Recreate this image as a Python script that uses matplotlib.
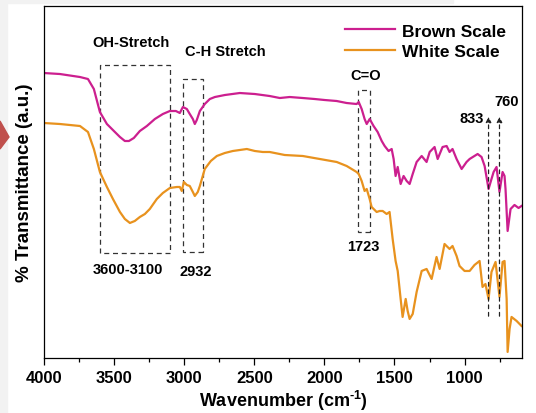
import numpy as np
import matplotlib
matplotlib.use('Agg')
import matplotlib.pyplot as plt
from matplotlib.patches import Rectangle, Polygon

plt.rcParams['font.family'] = ['Liberation Sans', 'DejaVu Sans']
plt.rcParams['font.weight'] = 'bold'
plt.rcParams['mathtext.fontset'] = 'custom'
plt.rcParams['mathtext.rm'] = 'Liberation Sans:bold'
plt.rcParams['mathtext.bf'] = 'Liberation Sans:bold'

# wavenumber (cm-1) and transmittance (a.u.)
wn_brown = [4000, 3886, 3743, 3686, 3644, 3601, 3551, 3494, 3458, 3423,
            3394, 3359, 3316, 3266, 3209, 3152, 3102, 3059, 3031, 3009,
            2981, 2960, 2938, 2924, 2910, 2888, 2853, 2817, 2781, 2710,
            2603, 2496, 2390, 2318, 2247, 2154, 2069, 1998, 1912, 1841,
            1770, 1755, 1734, 1713, 1698, 1677, 1649, 1620, 1591, 1570,
            1542, 1520, 1506, 1492, 1477, 1456, 1435, 1413, 1392, 1370,
            1342, 1306, 1271, 1249, 1214, 1192, 1157, 1128, 1107, 1086,
            1057, 1021, 986, 964, 907, 879, 857, 829, 808, 793,
            772, 751, 729, 715, 708, 693, 672, 644, 615, 594]
t_brown = [285, 284, 281, 279, 269, 246, 234, 226, 221, 217,
           217, 220, 227, 232, 239, 244, 247, 247, 245, 251,
           249, 244, 239, 234, 238, 247, 254, 259, 261, 263,
           265, 264, 262, 260, 261, 260, 259, 258, 257, 255,
           254, 256, 249, 239, 234, 239, 232, 226, 217, 212,
           207, 209, 199, 182, 191, 174, 182, 177, 174, 184,
           196, 202, 196, 206, 211, 199, 211, 212, 206, 209,
           199, 189, 196, 199, 204, 201, 192, 169, 179, 186,
           191, 166, 186, 182, 169, 127, 149, 153, 150, 152]

wn_white = [4000, 3886, 3743, 3686, 3644, 3601, 3551, 3508, 3458, 3423,
            3387, 3352, 3316, 3280, 3245, 3195, 3152, 3102, 3052, 3031,
            3017, 3002, 2981, 2960, 2938, 2924, 2903, 2888, 2853, 2810,
            2767, 2710, 2653, 2553, 2496, 2439, 2390, 2283, 2154, 2033,
            1912, 1841, 1770, 1755, 1734, 1713, 1698, 1677, 1663, 1627,
            1606, 1584, 1556, 1535, 1513, 1492, 1477, 1456, 1442, 1420,
            1406, 1392, 1370, 1342, 1306, 1271, 1235, 1200, 1178, 1143,
            1107, 1086, 1057, 1036, 1000, 964, 929, 893, 872, 851,
            829, 808, 779, 751, 729, 715, 700, 693, 679, 665,
            629, 594]
t_white = [235, 234, 232, 226, 209, 186, 171, 159, 146, 139,
           135, 137, 141, 144, 149, 159, 165, 170, 171, 171,
           167, 176, 173, 172, 166, 162, 166, 172, 189, 197,
           202, 205, 207, 209, 207, 206, 206, 203, 202, 199,
           196, 192, 186, 184, 177, 167, 169, 159, 151, 146,
           147, 147, 144, 146, 119, 97, 87, 59, 41, 59,
           47, 39, 44, 66, 87, 89, 79, 101, 89, 114,
           109, 112, 102, 92, 87, 87, 93, 97, 71, 74,
           59, 86, 96, 61, 96, 97, 59, 6, 29, 41,
           37, 32]

# annotation boxes: (x from, x to, y bottom, y top)
boxes = [(3600, 3100, 105, 293), (3010, 2867, 106, 279), (1762, 1677, 126, 268)]
peaks = [829, 751]

fig = plt.figure(figsize=(5.36, 4.14), dpi=100)
ax = fig.add_axes([0.082, 0.133, 0.892, 0.850])

ax.plot(wn_brown, t_brown, color='#cc1f8f', lw=1.6, label='Brown Scale')
ax.plot(wn_white, t_white, color='#e8921e', lw=1.6, label='White Scale')

for x0, x1, y0, y1 in boxes:
    ax.add_patch(Rectangle((x1, y0), x0 - x1, y1 - y0, fill=False,
                           ls=(0, (4, 3)), lw=0.9, ec='#333333'))

for p in peaks:
    ax.annotate('', xy=(p, 244), xytext=(p, 39),
                arrowprops=dict(arrowstyle='-|>', ls=(0, (3, 3)), lw=0.9,
                                color='#222222', mutation_scale=8))

fs = 10.5
ax.text(3380, 316, 'OH-Stretch', ha='center', va='center', fontsize=fs)
ax.text(2710, 307, 'C-H Stretch', ha='center', va='center', fontsize=fs)
ax.text(1705, 283, 'C=O', ha='center', va='center', fontsize=fs)
ax.text(3401, 89, '3600-3100', ha='center', va='center', fontsize=fs)
ax.text(2917, 87, '2932', ha='center', va='center', fontsize=fs)
ax.text(1720, 112, '1723', ha='center', va='center', fontsize=fs)
ax.text(950, 240, '833', ha='center', va='center', fontsize=fs)
ax.text(700, 257, '760', ha='center', va='center', fontsize=fs)

ax.set_xlim(4000, 590)
ax.set_ylim(0, 352)
ax.set_xticks([4000, 3500, 3000, 2500, 2000, 1500, 1000])
ax.set_xticks(np.arange(3750, 590, -500), minor=True)
ax.set_yticks([])
ax.tick_params(axis='x', which='major', length=5, width=0.9, labelsize=12, pad=4)
ax.tick_params(axis='x', which='minor', length=3, width=0.9)
for s in ax.spines.values():
    s.set_linewidth(0.9)

ax.set_xlabel('Wavenumber (cm$^{\\text{-1}}$)', fontsize=13, fontweight='bold', labelpad=2)
ax.set_ylabel('% Transmittance (a.u.)', fontsize=13.5, fontweight='bold', labelpad=8)

ax.legend(loc='upper right', bbox_to_anchor=(1.0, 0.995), frameon=False,
          prop={'size': 12.5, 'weight': 'bold'}, handlelength=2.9,
          handletextpad=0.4, labelspacing=0.3)

# screenshot edges
fig.patches.append(Rectangle((0, 0), 7 / 536, 1, transform=fig.transFigure,
                             color='#f2f2f2', zorder=-1))
fig.patches.append(Rectangle((0, 1 - 4 / 414), 453 / 536, 4 / 414,
                             transform=fig.transFigure, color='#f2f2f2', zorder=-1))
fig.patches.append(Polygon([(0, 1 - 122 / 414), (9 / 536, 1 - 138 / 414), (0, 1 - 150 / 414)],
                           closed=True, transform=fig.transFigure, color='#c0504d'))

fig.savefig('out.png', dpi=100)
